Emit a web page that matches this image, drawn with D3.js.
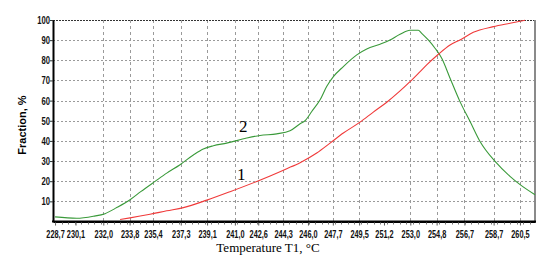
<!DOCTYPE html>
<html><head><meta charset="utf-8">
<script src="https://cdn.jsdelivr.net/npm/d3@7"></script>
<style>
html,body{margin:0;padding:0;background:#fff;}
svg{display:block;}
</style></head>
<body>
<svg id="chart" width="552" height="262"></svg>
<script>
// ---- data ----
const xTickLabels = ["228,7","230,1","232,0","233,8","235,4","237,3","239,1","241,0","242,6","244,3","246,0","247,7","249,5","251,2","253,0","254,8","256,7","258,7","260,5"];
const xTickValues = [228.7,230.1,232.0,233.8,235.4,237.3,239.1,241.0,242.6,244.3,246.0,247.7,249.5,251.2,253.0,254.8,256.7,258.7,260.5];
const xGridValues = [232.0,233.8,235.4,237.3,239.1,241.0,242.6,244.3,246.0,247.7,249.5,253.0,254.8,256.7,258.7,260.5];
const yTickValues = [10,20,30,40,50,60,70,80,90,100];

const curve2T = [228.70,230.18,231.32,232.12,232.92,233.83,234.56,235.54,236.34,237.25,238.16,238.84,239.53,240.44,241.81,242.72,243.86,244.77,245.46,245.80,246.26,246.83,247.28,247.74,248.42,249.34,250.02,250.93,251.61,252.30,252.98,253.55,253.78,254.23,254.69,255.15,255.72,256.40,257.09,257.77,258.80,259.82,260.51,261.53];
const curve2F = [2.3,1.6,2.6,3.9,6.9,10.8,14.8,19.9,24.0,28.2,33.0,36.0,37.6,38.9,41.4,42.7,43.5,45.0,48.5,50.0,54.6,60.4,67.0,71.9,76.9,82.7,85.6,88.0,90.1,92.9,94.9,94.9,93.4,90.1,86.0,81.0,71.1,59.5,49.6,39.7,29.8,22.4,18.3,13.3];

const curve1T = [233.15,233.83,235.20,236.34,237.48,239.08,240.67,242.50,243.41,244.55,245.46,246.60,247.51,248.42,249.56,250.47,251.39,252.30,252.98,253.67,254.12,254.92,255.72,256.40,257.31,258.68,259.82,260.85];
const curve1F = [1.0,1.8,3.6,5.3,6.9,10.6,14.8,19.9,22.6,26.2,29.2,34.0,38.9,43.9,49.3,54.3,59.2,64.8,69.4,74.4,77.7,83.0,87.6,90.1,93.9,96.7,98.4,99.9];

const curveLabels = [{text:"2", t:241.58, f:47.2},{text:"1", t:241.44, f:23.7}];

// ---- layout ----
const W = 552, H = 262;
const m = {left:53, top:20, right:17, bottom:40.5};
const svg = d3.select("#chart");
const x = d3.scaleLinear().domain([228.56, 261.53]).range([m.left, W - m.right]);
const y = d3.scaleLinear().domain([0, 100]).range([H - m.bottom, m.top]);

const tickFont = "'Liberation Sans','Arial',sans-serif";
const squeeze = 0.7;

// grid
svg.append("g").selectAll("line").data(yTickValues.filter(v => v < 100)).join("line")
  .attr("x1", m.left).attr("x2", W - m.right)
  .attr("y1", d => Math.round(y(d)) + 0.5).attr("y2", d => Math.round(y(d)) + 0.5)
  .attr("stroke", "#9a9a9a").attr("stroke-width", 1).attr("stroke-dasharray", "2,2");
svg.append("g").selectAll("line").data(xGridValues).join("line")
  .attr("x1", d => Math.round(x(d)) + 0.5).attr("x2", d => Math.round(x(d)) + 0.5)
  .attr("y1", m.top).attr("y2", H - m.bottom)
  .attr("stroke", "#9a9a9a").attr("stroke-width", 1).attr("stroke-dasharray", "3,3");

// top border (dotted, darker)
svg.append("line").attr("x1", m.left).attr("x2", W - m.right).attr("y1", m.top + 0.5).attr("y2", m.top + 0.5)
  .attr("stroke", "#333").attr("stroke-width", 1).attr("stroke-dasharray", "2,1");
// right border
svg.append("line").attr("x1", W - m.right).attr("x2", W - m.right).attr("y1", m.top).attr("y2", H - m.bottom + 1)
  .attr("stroke", "#8a8a8a").attr("stroke-width", 2);

// curves
const line = d3.line().x(d => x(d[0])).y(d => y(d[1])).curve(d3.curveMonotoneX);
svg.append("path").datum(d3.zip(curve2T, curve2F)).attr("d", line)
  .attr("fill", "none").attr("stroke", "#3a9a3a").attr("stroke-width", 1.1);
svg.append("path").datum(d3.zip(curve1T, curve1F)).attr("d", line)
  .attr("fill", "none").attr("stroke", "#f03a3a").attr("stroke-width", 1.1);

// axes
const xAxis = d3.axisBottom(x).tickValues(xTickValues).tickFormat((d, i) => xTickLabels[i]).tickSize(4).tickSizeOuter(0);
const gx = svg.append("g").attr("transform", `translate(0,${H - m.bottom})`).call(xAxis);
gx.select(".domain").attr("stroke", "#000").attr("stroke-width", 2);
gx.selectAll(".tick line").attr("stroke", "#555");
gx.selectAll(".tick text").attr("font-family", tickFont).attr("font-weight", "bold").attr("font-size", 10.5)
  .attr("fill", "#111").attr("dy", "0.95em")
  .attr("transform", `scale(${squeeze},1)`);

// minor ticks
const minor = d3.range(228.7, 261.3, 0.445);
svg.append("g").selectAll("line").data(minor).join("line")
  .attr("x1", d => Math.round(x(d)) + 0.5).attr("x2", d => Math.round(x(d)) + 0.5)
  .attr("y1", H - m.bottom).attr("y2", H - m.bottom + 3)
  .attr("stroke", "#777").attr("stroke-width", 1);

const yAxis = d3.axisLeft(y).tickValues(yTickValues).tickSize(3).tickSizeOuter(0);
const gy = svg.append("g").attr("transform", `translate(${m.left},0)`).call(yAxis);
gy.select(".domain").attr("stroke", "#000").attr("stroke-width", 2);
gy.selectAll(".tick line").attr("stroke", "#333");
gy.selectAll(".tick text").attr("font-family", tickFont).attr("font-weight", "bold").attr("font-size", 11)
  .attr("fill", "#111").attr("x", -3 / squeeze)
  .attr("transform", `scale(${squeeze},1)`);

// bottom axis solid overlay across full width
svg.append("line").attr("x1", m.left - 1).attr("x2", W - m.right + 1).attr("y1", H - m.bottom).attr("y2", H - m.bottom)
  .attr("stroke", "#000").attr("stroke-width", 2);

// curve labels
svg.append("g").selectAll("text").data(curveLabels).join("text")
  .attr("x", d => x(d.t)).attr("y", d => y(d.f)).attr("dy", "0.35em")
  .attr("text-anchor", "middle").attr("font-family", "'Liberation Serif','Times New Roman',serif")
  .attr("font-size", 17).attr("fill", "#000").text(d => d.text);

// axis titles
svg.append("text").attr("x", 268).attr("y", 252).attr("text-anchor", "middle")
  .attr("font-family", "'Liberation Serif','Times New Roman',serif").attr("font-size", 13).attr("fill", "#000")
  .text("Temperature T1, °C");
svg.append("text").attr("transform", "translate(26,125) rotate(-90)").attr("text-anchor", "middle")
  .attr("font-family", "'Liberation Sans','Arial',sans-serif").attr("font-weight", "bold").attr("font-size", 11).attr("fill", "#000")
  .text("Fraction, %");
</script>
</body></html>
